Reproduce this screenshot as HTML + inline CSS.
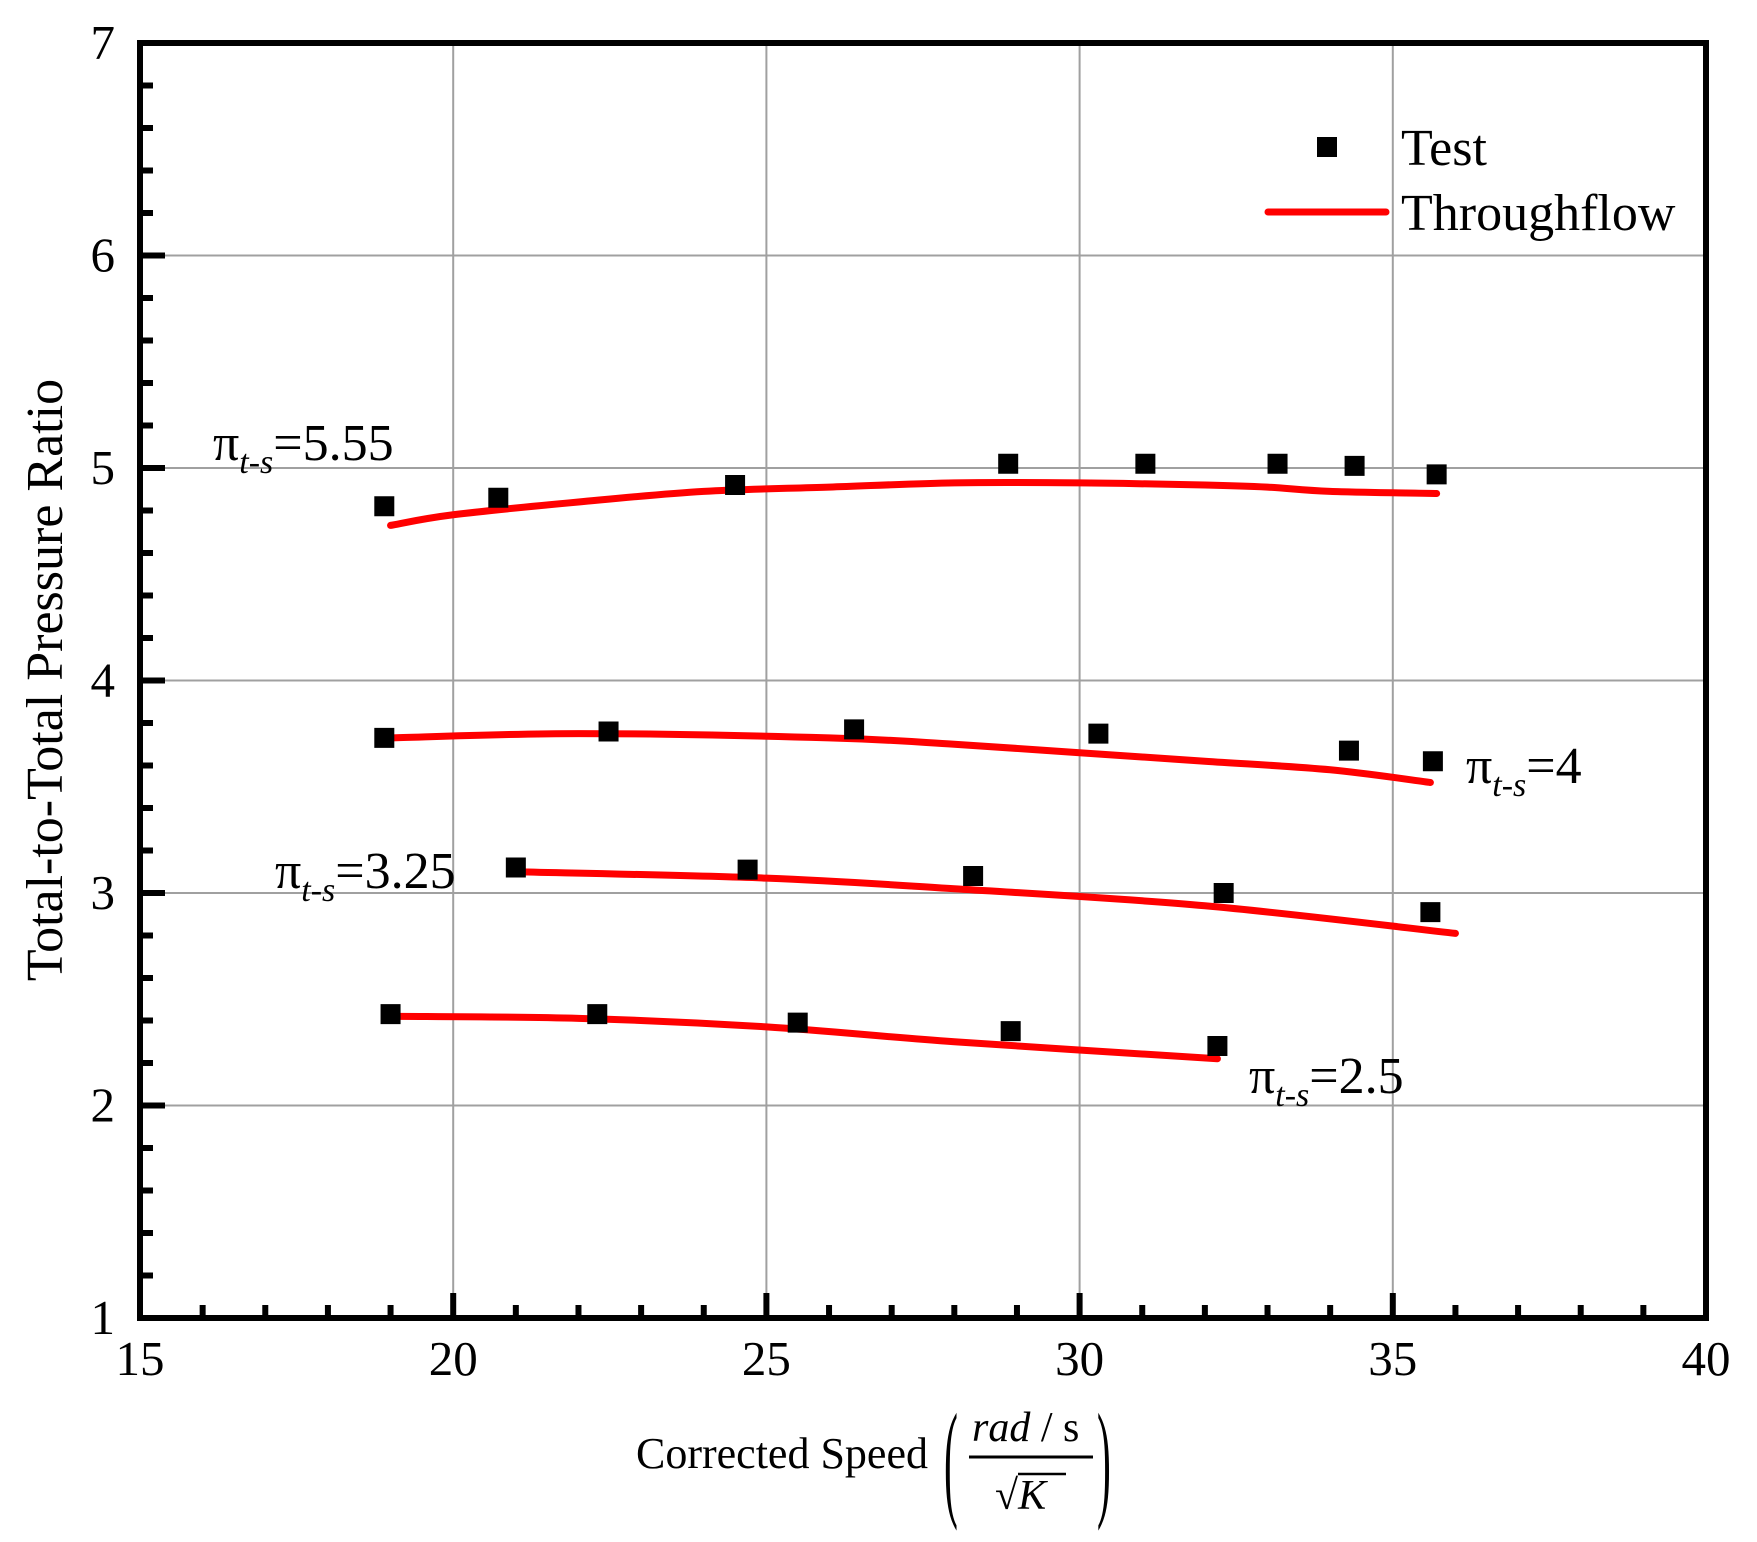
<!DOCTYPE html>
<html><head><meta charset="utf-8"><style>
html,body{margin:0;padding:0;background:#fff;}
svg{display:block;font-family:"Liberation Serif",serif;}
</style></head><body>
<svg id="chart" width="1757" height="1542" viewBox="0 0 1757 1542">
<g id="grid"></g>
<g id="series"></g>
<rect x="140" y="43" width="1566" height="1275" fill="none" stroke="#000" stroke-width="6"/>
<g id="ticks"></g>
<g id="labels" font-size="49"></g>
<text transform="translate(62,680) rotate(-90)" text-anchor="middle" font-size="52">Total-to-Total Pressure Ratio</text>
<g>
<text x="636" y="1468" font-size="44">Corrected Speed</text>
<text x="944" y="1503" font-size="130" transform="translate(944,1492) scale(0.32,1) translate(-944,-1492)">(</text>
<text x="1097" y="1503" font-size="130" transform="translate(1097,1492) scale(0.32,1) translate(-1097,-1492)">)</text>
<text x="972" y="1441" font-size="42"><tspan font-style="italic">rad</tspan> / s</text>
<line x1="969" y1="1457" x2="1093" y2="1457" stroke="#000" stroke-width="3"/>
<text x="995" y="1509" font-size="42">√<tspan font-style="italic">K</tspan></text>
<line x1="1018" y1="1474" x2="1066" y2="1474" stroke="#000" stroke-width="2.5"/>
</g>
<g>
<rect x="1317" y="137" width="20" height="20" fill="#000"/>
<text x="1401" y="165" font-size="52">Test</text>
<line x1="1268" y1="212" x2="1386" y2="212" stroke="#f00" stroke-width="7" stroke-linecap="round"/>
<text x="1401" y="230" font-size="52">Throughflow</text>
</g>
<g font-size="52">
<text x="213" y="460">π<tspan font-size="34" font-style="italic" dy="13">t-s</tspan><tspan dy="-13">=5.55</tspan></text>
<text x="1466" y="783">π<tspan font-size="34" font-style="italic" dy="13">t-s</tspan><tspan dy="-13">=4</tspan></text>
<text x="275" y="888">π<tspan font-size="34" font-style="italic" dy="13">t-s</tspan><tspan dy="-13">=3.25</tspan></text>
<text x="1249" y="1093">π<tspan font-size="34" font-style="italic" dy="13">t-s</tspan><tspan dy="-13">=2.5</tspan></text>
</g>
</svg>
<script>
const xTicks=[15,20,25,30,35,40];
const yTicks=[1,2,3,4,5,6,7];
const test555X=[18.9,20.72,24.5,28.86,31.05,33.16,34.39,35.7];
const test555Y=[4.82,4.86,4.92,5.02,5.02,5.02,5.01,4.97];
const flow555X=[19,20,22,24,26,28,30,32,33,34,35.7];
const flow555Y=[4.73,4.78,4.84,4.89,4.91,4.93,4.93,4.92,4.91,4.89,4.88];
const test4X=[18.9,22.48,26.4,30.3,34.3,35.64];
const test4Y=[3.73,3.76,3.77,3.75,3.67,3.62];
const flow4X=[19,22,26,28,30,32,34,35.6];
const flow4Y=[3.73,3.75,3.73,3.70,3.66,3.62,3.58,3.52];
const test325X=[21.0,24.7,28.3,32.3,35.6];
const test325Y=[3.12,3.11,3.08,3.00,2.91];
const flow325X=[21,25,28,32,36];
const flow325Y=[3.10,3.07,3.02,2.94,2.81];
const test25X=[19.0,22.3,25.5,28.9,32.2];
const test25Y=[2.43,2.43,2.39,2.35,2.28];
const flow25X=[19,22,25,28,32.2];
const flow25Y=[2.42,2.41,2.37,2.30,2.22];

const NS="http://www.w3.org/2000/svg";
const L=140,R=1706,T=43,B=1318;
function sx(v){return L+(v-15)/25*(R-L);}
function sy(v){return B-(v-1)/6*(B-T);}
function mk(tag,attrs,parent){const e=document.createElementNS(NS,tag);for(const k in attrs)e.setAttribute(k,attrs[k]);parent.appendChild(e);return e;}
const grid=document.getElementById('grid'),ticks=document.getElementById('ticks'),labels=document.getElementById('labels'),series=document.getElementById('series');
xTicks.forEach(v=>{
  if(v>15&&v<40){const g=mk('line',{x1:sx(v),x2:sx(v),y1:T,y2:B,stroke:'#a0a0a0','stroke-width':2},grid);
  
  }
  const t=mk('text',{x:sx(v),y:B+57,'text-anchor':'middle'},labels);t.textContent=v;
  
  
});
yTicks.forEach(v=>{
  if(v>1&&v<7){const g=mk('line',{x1:L,x2:R,y1:sy(v),y2:sy(v),stroke:'#a0a0a0','stroke-width':2},grid);
  
  }
  const t=mk('text',{x:L-25,y:sy(v)+16,'text-anchor':'end'},labels);t.textContent=v;
  
  
});
for(let v=16;v<40;v++){const len=(v%5===0)?25:13;
  const t=mk('line',{x1:sx(v),x2:sx(v),y1:B,y2:B-len,stroke:'#000','stroke-width':6},ticks);
  
  }
for(let i=1;i<30;i++){const v=1+i*0.2;const len=(i%5===0)?25:13;
  const t=mk('line',{x1:L,x2:L+len,y1:sy(v),y2:sy(v),stroke:'#000','stroke-width':6},ticks);
  
  }
function drawLine(xs,ys,name){
  const P=xs.map((x,i)=>[sx(x),sy(ys[i])]);
  let d='M'+P[0][0]+','+P[0][1];
  for(let i=0;i<P.length-1;i++){
    const p0=P[Math.max(0,i-1)],p1=P[i],p2=P[i+1],p3=P[Math.min(P.length-1,i+2)];
    const c1=[p1[0]+(p2[0]-p0[0])/6,p1[1]+(p2[1]-p0[1])/6];
    const c2=[p2[0]-(p3[0]-p1[0])/6,p2[1]-(p3[1]-p1[1])/6];
    d+=' C'+c1[0]+','+c1[1]+' '+c2[0]+','+c2[1]+' '+p2[0]+','+p2[1];
  }
  const p=mk('path',{d:d,fill:'none',stroke:'#f00','stroke-width':7,'stroke-linejoin':'round','stroke-linecap':'round'},series);
  
  
}
function drawPts(xs,ys,name){
  xs.forEach((x,i)=>{const r=mk('rect',{x:sx(x)-10,y:sy(ys[i])-10,width:20,height:20,fill:'#000'},series);
  
  });
}
drawLine(flow555X,flow555Y,'throughflow-line-5-55');
drawLine(flow4X,flow4Y,'throughflow-line-4');
drawLine(flow325X,flow325Y,'throughflow-line-3-25');
drawLine(flow25X,flow25Y,'throughflow-line-2-5');
drawPts(test555X,test555Y,'test-point-5-55');
drawPts(test4X,test4Y,'test-point-4');
drawPts(test325X,test325Y,'test-point-3-25');
drawPts(test25X,test25Y,'test-point-2-5');
</script>
</body></html>
